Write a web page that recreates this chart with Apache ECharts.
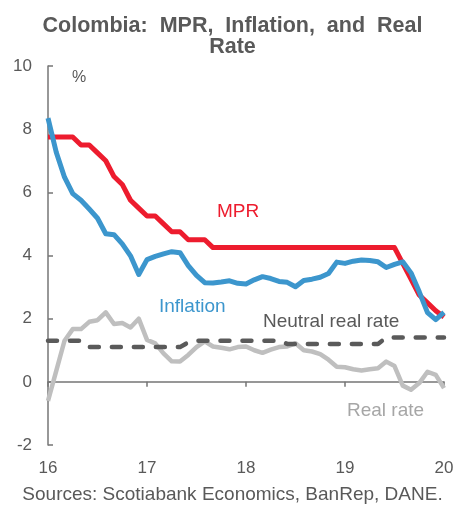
<!DOCTYPE html>
<html>
<head>
<meta charset="utf-8">
<script src="https://cdn.jsdelivr.net/npm/echarts@6/dist/echarts.min.js"></script>
<style>html,body{margin:0;padding:0;background:#fff}#c{width:465px;height:506px}</style>
</head>
<body>
<div id="c"></div>
<script>
// Monthly observations, x positions in year units (16 = 2016 ... 20 = 2020)
var startYear = 16;
var xTicks = ['16', '17', '18', '19', '20'];
var yTicks = ['-2', '0', '2', '4', '6', '8', '10'];

var mpr = [7.75, 7.75, 7.75, 7.75, 7.5, 7.5, 7.25, 7.0, 6.5, 6.25, 5.75, 5.5, 5.25, 5.25, 5.0, 4.75, 4.75,
  4.5, 4.5, 4.5,
  4.25, 4.25, 4.25, 4.25, 4.25, 4.25, 4.25, 4.25, 4.25, 4.25, 4.25, 4.25, 4.25, 4.25, 4.25, 4.25, 4.25, 4.25, 4.25, 4.25, 4.25, 4.25, 4.25,
  3.75, 3.25, 2.75, 2.5, 2.25, 2.05];

var inflation = [8.35, 7.27, 6.48, 5.96, 5.75, 5.47, 5.18, 4.69, 4.66, 4.37, 3.99, 3.40, 3.87, 3.97, 4.05, 4.12, 4.09,
  3.68, 3.37, 3.14, 3.13, 3.16, 3.20, 3.12, 3.10, 3.23, 3.33, 3.27, 3.18, 3.15, 3.01, 3.21, 3.25, 3.31, 3.43,
  3.79, 3.75, 3.82, 3.86, 3.84, 3.80, 3.62, 3.72, 3.80, 3.45, 2.85, 2.19, 1.97, 2.2];

var realRate = [-0.6, 0.35, 1.3, 1.67, 1.67, 1.9, 1.95, 2.2, 1.83, 1.86, 1.72, 2.0, 1.33, 1.22, 0.9, 0.65, 0.64,
  0.85, 1.1, 1.28, 1.12, 1.08, 1.03, 1.1, 1.12, 1.0, 0.92, 1.02, 1.1, 1.12, 1.22, 1.0, 0.96, 0.88, 0.7,
  0.48, 0.46, 0.4, 0.36, 0.4, 0.43, 0.64, 0.5, -0.12, -0.25, -0.04, 0.32, 0.22, -0.2];

var neutralRate = [1.3, 1.3, 1.3, 1.3, 1.3,
  1.1, 1.1, 1.1, 1.1, 1.1, 1.1, 1.1, 1.1, 1.1, 1.1, 1.1, 1.1,
  1.25,
  1.3, 1.3, 1.3, 1.3, 1.3, 1.3, 1.3, 1.3, 1.3, 1.3, 1.3,
  1.2, 1.2, 1.2, 1.2, 1.2, 1.2, 1.2, 1.2, 1.2, 1.2, 1.2, 1.2,
  1.4, 1.4, 1.4, 1.4, 1.4, 1.4, 1.4, 1.4];

function pairs(arr) {
  return arr.map(function (v, i) { return [startYear + i / 12, v]; });
}

var FONT = '"Liberation Sans", Arial, sans-serif';
var TXT = '#595959';
var RED = '#ED1C2E';
var BLUE = '#3C96CD';
var LGRAY = '#BFBFBF';
var DGRAY = '#5A5A5A';

var chart = echarts.init(document.getElementById('c'), null, {renderer: 'canvas'});
chart.setOption({
  animation: false,
  backgroundColor: '#fff',
  title: {
    text: 'Colombia:  MPR,  Inflation,  and  Real\nRate',
    left: 'center',
    top: 11,
    textStyle: {fontFamily: FONT, fontSize: 21.5, fontWeight: 'bold', color: TXT, lineHeight: 21}
  },
  grid: {left: 48, right: 21, top: 66, bottom: 61},
  xAxis: [{
    type: 'value', min: 16, max: 20, interval: 1,
    axisLine: {onZero: true, lineStyle: {color: '#767676', width: 1.5}},
    axisTick: {show: true, inside: false, length: 5, lineStyle: {color: '#767676', width: 1.5}},
    axisLabel: {show: false},
    splitLine: {show: false}
  }, {
    type: 'value', min: 16, max: 20, interval: 1, position: 'bottom',
    axisLine: {show: false}, axisTick: {show: false}, splitLine: {show: false},
    axisLabel: {
      margin: 15, fontFamily: FONT, fontSize: 17, color: TXT,
      formatter: function (v) { return xTicks[Math.round(v - startYear)]; }
    }
  }],
  yAxis: {
    type: 'value', min: -2, max: 10, interval: 2,
    axisLine: {show: true, onZero: false, lineStyle: {color: '#767676', width: 1.5}},
    axisTick: {show: true, inside: true, length: 5, lineStyle: {color: '#767676', width: 1.5}},
    splitLine: {show: false},
    axisLabel: {
      margin: 16, fontFamily: FONT, fontSize: 17, color: TXT,
      formatter: function (v) { return yTicks[Math.round((v + 2) / 2)]; }
    }
  },
  series: [{
    name: 'MPR', type: 'line', xAxisIndex: 0, data: pairs(mpr), symbol: 'none',
    lineStyle: {color: RED, width: 5, join: 'round'}, z: 3
  }, {
    name: 'Inflation', type: 'line', xAxisIndex: 0, data: pairs(inflation), symbol: 'none',
    lineStyle: {color: BLUE, width: 5, join: 'round'}, z: 4
  }, {
    name: 'Real rate', type: 'line', xAxisIndex: 0, data: pairs(realRate), symbol: 'none',
    lineStyle: {color: LGRAY, width: 4.5, join: 'round'}, z: 2
  }, {
    name: 'Neutral real rate', type: 'line', xAxisIndex: 0, data: pairs(neutralRate), symbol: 'none',
    lineStyle: {color: DGRAY, width: 4.5, type: [9, 13], cap: 'round', join: 'round'}, z: 3
  }],
  graphic: [
    {type: 'text', left: 72, top: 70, style: {text: '%', font: '16px ' + FONT, fill: TXT}},
    {type: 'text', left: 217, top: 202, style: {text: 'MPR', font: '19px ' + FONT, fill: RED}},
    {type: 'text', left: 159, top: 297, style: {text: 'Inflation', font: '19px ' + FONT, fill: BLUE}},
    {type: 'text', left: 263, top: 312, style: {text: 'Neutral real rate', font: '19px ' + FONT, fill: TXT}},
    {type: 'text', left: 347, top: 401, style: {text: 'Real rate', font: '19px ' + FONT, fill: '#A6A6A6'}},
    {type: 'text', left: 'center', top: 485, style: {text: 'Sources: Scotiabank Economics, BanRep, DANE.', font: '19px ' + FONT, fill: TXT}}
  ]
});
</script>
</body>
</html>
